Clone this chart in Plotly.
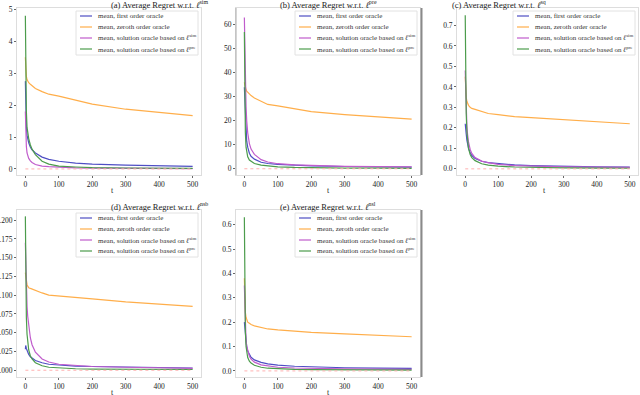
import plotly.graph_objects as go

t = [0, 1, 2, 3, 5, 7, 10, 15, 20, 30, 50, 70, 100, 150, 200, 300, 400, 500]

# (a) regret w.r.t. l^sim
a_first = [2.75, 2.0, 1.6, 1.3, 1.05, 0.92, 0.82, 0.68, 0.6, 0.5, 0.37, 0.3, 0.24, 0.18, 0.15, 0.12, 0.1, 0.08]
a_zeroth = [3.5, 3.2, 3.0, 2.9, 2.8, 2.75, 2.7, 2.65, 2.6, 2.52, 2.42, 2.34, 2.28, 2.15, 2.03, 1.87, 1.76, 1.67]
a_sim = [1.8, 1.2, 0.9, 0.7, 0.5, 0.4, 0.33, 0.25, 0.2, 0.14, 0.09, 0.07, 0.05, 0.035, 0.025, 0.018, 0.014, 0.01]
a_pre = [4.8, 3.2, 2.3, 1.8, 1.3, 1.1, 0.95, 0.75, 0.62, 0.45, 0.24, 0.15, 0.09, 0.06, 0.04, 0.03, 0.025, 0.02]

# (b) regret w.r.t. l^pre
b_first = [34, 30, 25, 21, 15, 11.5, 9, 6.5, 5.2, 4, 2.7, 2.2, 1.8, 1.4, 1.2, 0.95, 0.8, 0.7]
b_zeroth = [36, 35, 34.5, 34, 33, 32.3, 31.8, 31, 30.5, 29.5, 28.2, 26.8, 26.2, 25, 23.8, 22.6, 21.6, 20.7]
b_sim = [63, 52, 42, 35, 26, 20, 15, 10.5, 8.2, 6, 3.8, 2.8, 2.1, 1.6, 1.3, 1.0, 0.85, 0.75]
b_pre = [57, 35, 22, 15, 9, 6.5, 5, 3.6, 3, 2.2, 1.5, 1.1, 0.8, 0.55, 0.4, 0.3, 0.25, 0.2]

# (c)
c_first = [0.22, 0.21, 0.19, 0.17, 0.14, 0.12, 0.1, 0.08, 0.065, 0.05, 0.037, 0.03, 0.025, 0.019, 0.016, 0.012, 0.01, 0.008]
c_zeroth = [0.45, 0.40, 0.37, 0.35, 0.33, 0.32, 0.31, 0.3, 0.295, 0.29, 0.28, 0.27, 0.265, 0.255, 0.25, 0.24, 0.23, 0.22]
c_sim = [0.48, 0.4, 0.33, 0.28, 0.21, 0.17, 0.13, 0.095, 0.075, 0.055, 0.038, 0.03, 0.022, 0.016, 0.013, 0.01, 0.008, 0.007]
c_pre = [0.75, 0.5, 0.35, 0.27, 0.18, 0.14, 0.1, 0.07, 0.055, 0.04, 0.025, 0.018, 0.013, 0.009, 0.007, 0.005, 0.004, 0.003]

# (d)
d_first = [0.028, 0.033, 0.031, 0.029, 0.026, 0.024, 0.021, 0.018, 0.016, 0.013, 0.01, 0.008, 0.007, 0.0055, 0.005, 0.004, 0.0035, 0.003]
d_zeroth = [0.13, 0.125, 0.12, 0.117, 0.114, 0.112, 0.11, 0.109, 0.108, 0.106, 0.103, 0.1, 0.099, 0.097, 0.095, 0.091, 0.088, 0.085]
d_sim = [0.17, 0.14, 0.12, 0.105, 0.085, 0.072, 0.058, 0.043, 0.034, 0.024, 0.015, 0.011, 0.008, 0.006, 0.005, 0.004, 0.003, 0.0025]
d_pre = [0.205, 0.13, 0.09, 0.07, 0.048, 0.037, 0.027, 0.019, 0.015, 0.01, 0.006, 0.004, 0.003, 0.002, 0.0015, 0.001, 0.001, 0.001]

# (e)
e_first = [0.2, 0.18, 0.16, 0.14, 0.115, 0.1, 0.082, 0.066, 0.056, 0.045, 0.035, 0.029, 0.024, 0.019, 0.016, 0.013, 0.011, 0.01]
e_zeroth = [0.38, 0.3, 0.26, 0.24, 0.22, 0.21, 0.2, 0.195, 0.19, 0.185, 0.177, 0.172, 0.168, 0.163, 0.158, 0.152, 0.146, 0.14]
e_sim = [0.35, 0.27, 0.21, 0.17, 0.125, 0.1, 0.08, 0.06, 0.048, 0.036, 0.025, 0.02, 0.015, 0.012, 0.01, 0.008, 0.007, 0.006]
e_pre = [0.63, 0.35, 0.22, 0.16, 0.1, 0.075, 0.055, 0.04, 0.032, 0.023, 0.015, 0.011, 0.008, 0.006, 0.005, 0.004, 0.003, 0.003]

series_names = ["mean, first order oracle", "mean, zeroth order oracle",
                "mean, solution oracle based on <i>ℓ</i><sup>sim</sup>",
                "mean, solution oracle based on <i>ℓ</i><sup>pre</sup>"]
colors = ["#4f4fc4", "#ffae4a", "#c05ccc", "#4c9c4c"]

titles = ["(a) Average Regret w.r.t. <i>ℓ</i><sup>sim</sup>",
          "(b) Average Regret w.r.t. <i>ℓ</i><sup>pre</sup>",
          "(c) Average Regret w.r.t. <i>ℓ</i><sup>sq</sup>",
          "(d) Average Regret w.r.t. <i>ℓ</i><sup>nsb</sup>",
          "(e) Average Regret w.r.t. <i>ℓ</i><sup>nsl</sup>"]

panels = [
    [a_first, a_zeroth, a_sim, a_pre],
    [b_first, b_zeroth, b_sim, b_pre],
    [c_first, c_zeroth, c_sim, c_pre],
    [d_first, d_zeroth, d_sim, d_pre],
    [e_first, e_zeroth, e_sim, e_pre],
]

W, H = 640, 395


def px(x):
    return x / W


def py(y):
    return 1 - y / H


# frame boxes in page pixels: left, right, top, bottom
boxes = [(17, 201, 8, 175), (236, 420, 8, 175), (457, 638, 8, 175),
         (17, 201, 210, 377), (236, 420, 210, 377)]
yranges = [[-0.19, 5.04], [-2.6, 67.0], [-0.03, 0.785], [-0.009, 0.2135], [-0.025, 0.66]]
ydtick = [1, 10, 0.1, 0.025, 0.1]
yfmt = ["d", "d", ".1f", ".3f", ".1f"]

FONT = "Liberation Serif"

fig = go.Figure()
shapes = []
annotations = []

for i, vals in enumerate(panels):
    n = "" if i == 0 else str(i + 1)
    L, R, T, B = boxes[i]
    for j, v in enumerate(vals):
        fig.add_trace(go.Scatter(x=t, y=v, mode="lines", xaxis="x" + n, yaxis="y" + n,
                                 line=dict(color=colors[j], width=1.2), showlegend=False))
    # faint dotted reference line at zero
    fig.add_trace(go.Scatter(x=[0, 500], y=[0, 0], mode="lines", xaxis="x" + n, yaxis="y" + n,
                             line=dict(color="#ffb0b0", width=1, dash="dot"), showlegend=False))
    common = dict(showline=True, mirror=True, linecolor="#dddddd", linewidth=1, automargin=False,
                  showgrid=False, zeroline=False, ticks="outside", ticklen=2, tickcolor="#666",
                  tickfont=dict(family=FONT, size=7.5, color="#222"))
    fig.update_layout(**{
        "xaxis" + n: dict(domain=[px(L), px(R)], range=[-25, 525], tickvals=[0, 100, 200, 300, 400, 500],
                          anchor="y" + n, **common),
        "yaxis" + n: dict(domain=[py(B), py(T)], range=yranges[i], dtick=ydtick[i],
                          tickformat=yfmt[i], anchor="x" + n, **common),
    })
    annotations.append(dict(text=titles[i], x=(px(L) + px(R)) / 2, y=py(T - 4), xref="paper", yref="paper",
                            yanchor="middle", showarrow=False, font=dict(family=FONT, size=8.5, color="#222")))
    annotations.append(dict(text="t", x=(px(L) + px(R)) / 2, y=py(B + 15), xref="paper", yref="paper",
                            yanchor="middle", showarrow=False, font=dict(family=FONT, size=8, color="#222")))
    # legend box drawn by hand
    lr, lt = R - 3, T + 3
    ll, lb = lr - 122, lt + 44
    shapes.append(dict(type="rect", xref="paper", yref="paper", x0=px(ll), x1=px(lr),
                       y0=py(lb), y1=py(lt), line=dict(color="#e2e2e2", width=1),
                       fillcolor="rgba(255,255,255,0.8)", layer="above"))
    for j in range(4):
        yy = lt + 5 + j * 11
        shapes.append(dict(type="line", xref="paper", yref="paper", x0=px(ll + 4), x1=px(ll + 16),
                           y0=py(yy), y1=py(yy), line=dict(color=colors[j], width=1.2), layer="above"))
        annotations.append(dict(text=series_names[j], x=px(ll + 20), y=py(yy), xref="paper", yref="paper",
                                xanchor="left", yanchor="middle", showarrow=False,
                                font=dict(family=FONT, size=7, color="#333")))

# gray separators from the original figure
for top, bot in [(8, 175), (210, 377)]:
    shapes.append(dict(type="line", xref="paper", yref="paper", x0=px(421.5), x1=px(421.5),
                       y0=py(bot), y1=py(top), line=dict(color="#8a8a8a", width=2)))
shapes.append(dict(type="line", xref="paper", yref="paper", x0=px(236), x1=px(236),
                   y0=py(175), y1=py(8), line=dict(color="#aaaaaa", width=1)))

fig.update_layout(width=W, height=H, margin=dict(l=0, r=0, t=0, b=0, autoexpand=False),
                  paper_bgcolor="white", plot_bgcolor="white", template="none",
                  shapes=shapes, annotations=annotations, showlegend=False)

# drop the default 8px page margin so the figure fills the window exactly
fig.write_html("out.html", config={"displayModeBar": False},
               post_script="document.body.style.margin='0';")
